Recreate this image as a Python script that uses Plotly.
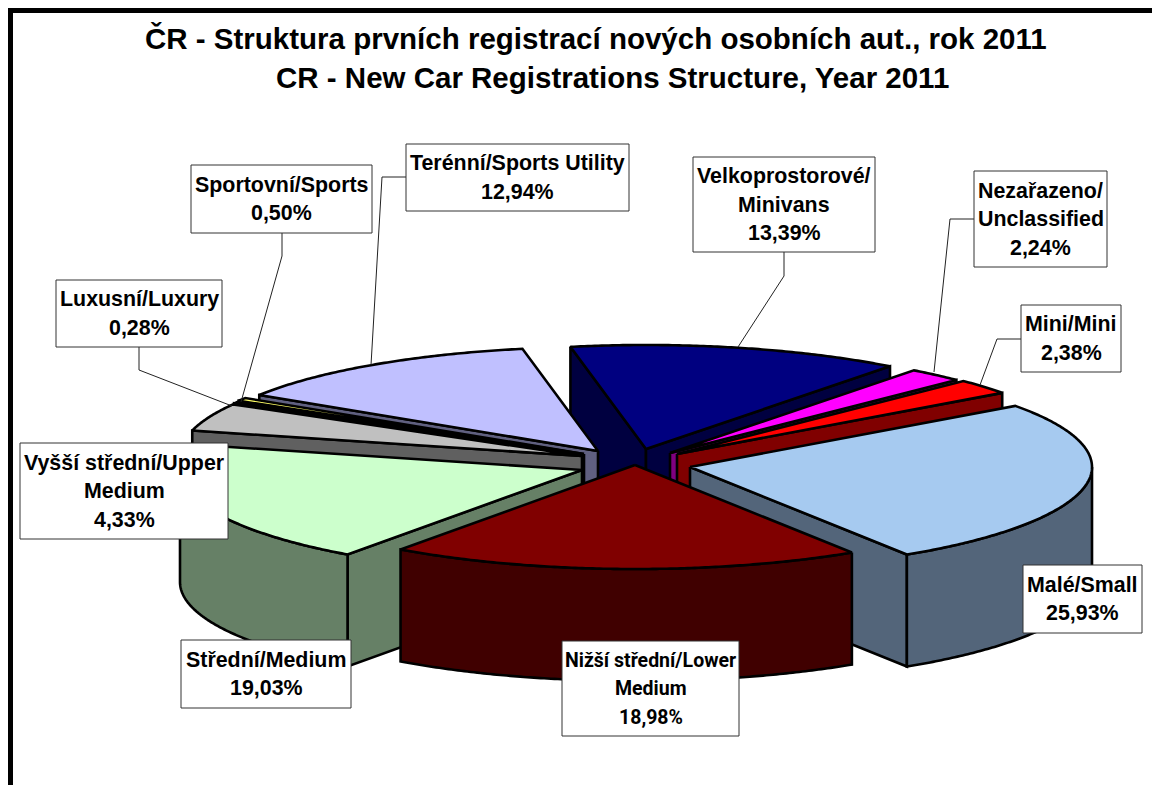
import math
import plotly.graph_objects as go

# ---- data -------------------------------------------------------------
CATEGORIES = ["Malé/Small", "Nižší střední/Lower Medium", "Střední/Medium",
              "Vyšší střední/Upper Medium", "Luxusní/Luxury", "Sportovní/Sports",
              "Terénní/Sports Utility", "Velkoprostorové/Minivans",
              "Nezařazeno/Unclassified", "Mini/Mini"]
SHARES = [25.93, 18.98, 19.03, 4.33, 0.28, 0.50, 12.94, 13.39, 2.24, 2.38]
LABEL_LINES = [["Malé/Small"], ["Nižší střední/Lower", "Medium"], ["Střední/Medium"],
               ["Vyšší střední/Upper", "Medium"], ["Luxusní/Luxury"], ["Sportovní/Sports"],
               ["Terénní/Sports Utility"], ["Velkoprostorové/", "Minivans"],
               ["Nezařazeno/", "Unclassified"], ["Mini/Mini"]]
TITLE_LINES = ["ČR - Struktura prvních registrací nových osobních aut., rok 2011",
               "CR - New Car Registrations Structure, Year 2011"]

# ---- style and layout -------------------------------------------------
TOP_COLORS = ["#A6CAF0", "#800000", "#CCFFCC", "#C0C0C0", "#000000", "#FFFF66",
              "#C0C0FF", "#000080", "#FF00FF", "#FF0000"]
SIDE_COLORS = ["#53657A", "#400000", "#668066", "#606060", "#000000", "#808033",
               "#606080", "#000040", "#800080", "#800000"]
START_ANGLE = 54.0
CENTER = (634, 457)
RX, RY, DEPTH = 402, 104, 112
PULL = [(56, 10), (1, 8), (-52, 13), (-52, -1), (-51, -2), (-50, -3),
        (-36, -6), (12, -8), (36, -4), (43, -3)]
DRAW_ORDER = [7, 8, 9, 6, 5, 4, 3, 2, 0, 1]
BOXES = [(1023, 1142, 565, 633), (562, 739, 641, 736), (181, 351, 640, 708),
         (20, 228, 443, 539), (56, 222, 280, 347), (191, 372, 165, 233),
         (406, 629, 144, 211), (693, 875, 157, 252), (974, 1107, 171, 267),
         (1021, 1121, 305, 372)]
LEADERS = [None, None, None, None,
           [(139, 347), (139, 370), (232, 406)],
           [(282, 233), (282, 256), (241, 402)],
           [(406, 177), (382, 177), (371, 365)],
           [(784, 252), (784, 276), (738, 347)],
           [(974, 219), (950, 219), (934, 372)],
           [(1021, 339), (997, 339), (980, 385)]]
FONT = "Liberation Sans, Arial, sans-serif"
NARROW_FONT = "Roboto, Liberation Sans, Arial, sans-serif"
LABEL_SIZE = 21.4
NARROW_SIZE = 19.5
NARROW_LABEL = 1
TITLE_SIZE = 29.5
TITLE_X = [596, 612.5]
TITLE_Y = [38, 77]
LINE_STEP = 28.5
OUTLINE = 2.6


def arc(tip, a0, a1, dy=0.0):
    n = max(2, int(abs(a1 - a0)) * 2)
    pts = []
    for i in range(n + 1):
        a = math.radians(a0 + (a1 - a0) * i / n)
        pts.append((tip[0] + RX * math.sin(a), tip[1] - RY * math.cos(a) + dy))
    return pts


def poly(fig, pts, color):
    xs = [p[0] for p in pts] + [pts[0][0]]
    ys = [p[1] for p in pts] + [pts[0][1]]
    fig.add_trace(go.Scatter(x=xs, y=ys, mode="lines", fill="toself", fillcolor=color,
                             line=dict(color="black", width=OUTLINE, simplify=False),
                             hoverinfo="skip", showlegend=False))


fig = go.Figure()
total = sum(SHARES)
bounds = []
acc = START_ANGLE
for v in SHARES:
    bounds.append((acc, acc + v / total * 360.0))
    acc += v / total * 360.0

for idx in DRAW_ORDER:
    a0, a1 = bounds[idx]
    tip = (CENTER[0] + PULL[idx][0], CENTER[1] + PULL[idx][1])
    side = SIDE_COLORS[idx]
    s0, c0 = math.sin(math.radians(a0)), math.cos(math.radians(a0))
    s1, c1 = math.sin(math.radians(a1)), math.cos(math.radians(a1))
    p0 = (tip[0] + RX * s0, tip[1] - RY * c0)
    p1 = (tip[0] + RX * s1, tip[1] - RY * c1)
    # radial cut faces that look towards the viewer
    if s0 < 0:
        poly(fig, [tip, p0, (p0[0], p0[1] + DEPTH), (tip[0], tip[1] + DEPTH)], side)
    if s1 > 0:
        poly(fig, [tip, p1, (p1[0], p1[1] + DEPTH), (tip[0], tip[1] + DEPTH)], side)
    # outer wall: only the front half of the rim
    lo, hi = max(a0, 90.0), min(a1, 270.0)
    if hi > lo:
        poly(fig, arc(tip, lo, hi) + arc(tip, hi, lo, DEPTH), side)
    # top face
    poly(fig, [tip] + arc(tip, a0, a1), TOP_COLORS[idx])

shapes = []
# chart frame: only the top and left edges fall inside the picture
shapes.append(dict(type="rect", x0=8, x1=13, y0=8, y1=790, fillcolor="black", line_width=0, layer="above"))
shapes.append(dict(type="rect", x0=8, x1=1160, y0=8, y1=13, fillcolor="black", line_width=0, layer="above"))
for pts in LEADERS:
    if pts:
        path = "M " + " L ".join(f"{x} {y}" for x, y in pts)
        shapes.append(dict(type="path", path=path, line=dict(color="#222222", width=1), layer="above"))
for (x0, x1, y0, y1) in BOXES:
    shapes.append(dict(type="rect", x0=x0, x1=x1, y0=y0, y1=y1, fillcolor="white",
                       line=dict(color="#333333", width=1), layer="above"))

annotations = []
for i, lines in enumerate(LABEL_LINES):
    x0, x1, y0, y1 = BOXES[i]
    rows = lines + [f"{SHARES[i]:.2f}%".replace(".", ",")]
    family = NARROW_FONT if i == NARROW_LABEL else FONT
    size = NARROW_SIZE if i == NARROW_LABEL else LABEL_SIZE
    for j, row in enumerate(rows):
        annotations.append(dict(x=(x0 + x1) / 2, y=(y0 + y1) / 2 + (j - (len(rows) - 1) / 2) * LINE_STEP,
                                text=f"<b>{row}</b>", showarrow=False, xanchor="center", yanchor="middle",
                                font=dict(family=family, size=size, color="black")))
for text, cx, cy in zip(TITLE_LINES, TITLE_X, TITLE_Y):
    annotations.append(dict(x=cx, y=cy, text=f"<b>{text}</b>", showarrow=False, xanchor="center",
                            yanchor="middle", font=dict(family=FONT, size=TITLE_SIZE, color="black")))

fig.update_layout(width=1152, height=785, autosize=False, margin=dict(l=0, r=0, t=0, b=0),
                  paper_bgcolor="white", plot_bgcolor="white", shapes=shapes, annotations=annotations,
                  xaxis=dict(range=[0, 1152], visible=False, fixedrange=True),
                  yaxis=dict(range=[785, 0], visible=False, fixedrange=True))
fig.write_html("out.html", config=dict(displayModeBar=False),
               post_script="document.body.style.margin='0';document.body.style.overflow='hidden';")
